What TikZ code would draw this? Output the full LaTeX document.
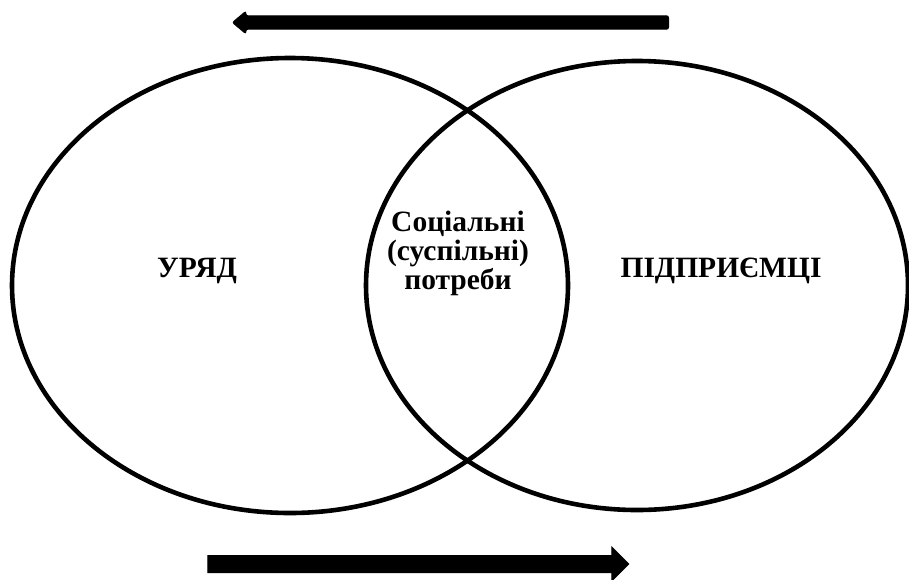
\documentclass[tikz,border=0pt]{standalone}
\usepackage{fontspec}
\setmainfont{Liberation Serif}
\usetikzlibrary{shapes.geometric,shapes.arrows}
\begin{document}
\begin{tikzpicture}[x=1pt,y=-1pt,
  oval/.style={draw=black, line width=4.6pt, ellipse, inner sep=0pt},
  label/.style={font=\fontsize{29.5}{29}\selectfont\bfseries, inner sep=0pt, align=center},
  bigarrow/.style={single arrow, draw=black, fill=black, inner xsep=0pt, line width=1pt}]
\useasboundingbox (0,0) rectangle (909,579);
\node[oval, minimum width=556pt, minimum height=455pt] (gov) at (290,285.5) {};
\node[oval, minimum width=542pt, minimum height=449pt] (biz) at (637,285.5) {};
\node[label, anchor=base] (govtxt) at (197,277) {УРЯД};
\node[label, anchor=base] (biztxt) at (721,277) {ПІДПРИЄМЦІ};
\node[label] (needs) at (458,253) {Соціальні\\(суспільні)\\потреби};
\node[bigarrow, rounded corners=2pt, shape border rotate=180, minimum height=436pt, inner ysep=6.2pt,
  single arrow head extend=4.5pt, single arrow tip angle=80] (toparrow) at (454.5,22.5) {};
\node[bigarrow, minimum height=421pt, inner ysep=8pt,
  single arrow head extend=8.5pt, single arrow tip angle=90] (botarrow) at (414,564) {};
\end{tikzpicture}
\end{document}
